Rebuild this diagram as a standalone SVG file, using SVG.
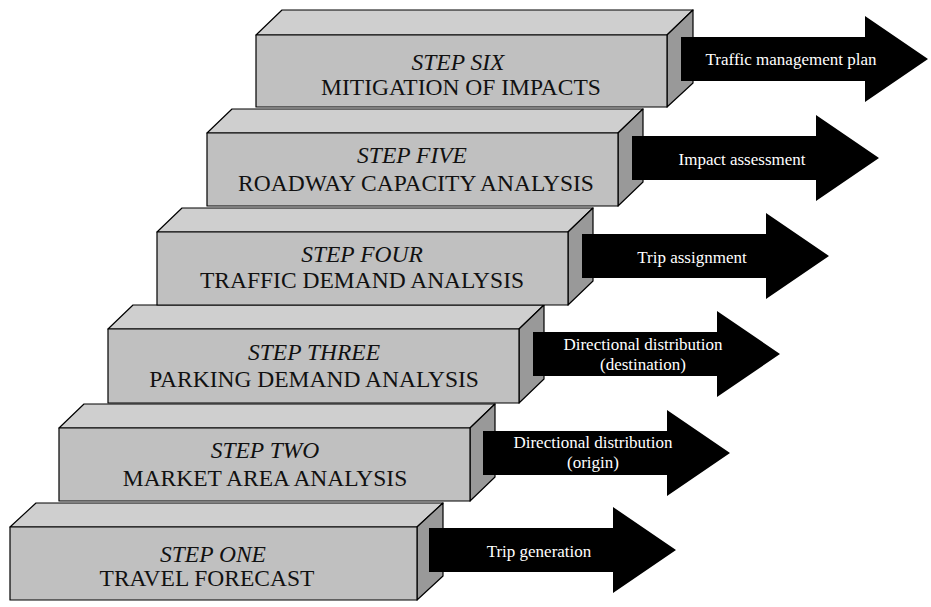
<svg xmlns="http://www.w3.org/2000/svg" xmlns:xlink="http://www.w3.org/1999/xlink" width="931" height="607" viewBox="0 0 931 607">
  <style>
    .front { fill: #c0c0c0; stroke: #000; stroke-width: 1.2; stroke-linejoin: round; }
    .top { fill: #cfcfcf; stroke: #000; stroke-width: 1.2; stroke-linejoin: round; }
    .side { fill: #999999; stroke: #000; stroke-width: 1.2; stroke-linejoin: round; }
    .arrow { fill: #000; }
    .step { font-family: "Liberation Serif", "Times New Roman", serif; font-size: 23.5px; font-style: italic; fill: #111; text-anchor: middle; }
    .title { font-family: "Liberation Serif", "Times New Roman", serif; font-size: 23.5px; fill: #111; text-anchor: middle; }
    .out { font-family: "Liberation Serif", "Times New Roman", serif; font-size: 17px; fill: #fff; text-anchor: middle; }
  </style>
  <defs>
    <!-- block arrow: body 184 long, 44 tall; head 63 long, 86 tall -->
    <path id="blockArrow" d="M0,0 H184 V-21 L247,22 L184,65 V44 H0 Z"/>
  </defs>

  <!-- Step one -->
  <g id="step-one">
    <polygon class="top" points="10,527 36,503 443,503 417,527"/>
    <polygon class="side" points="417,527 443,503 443,576 417,600"/>
    <rect class="front" x="10" y="527" width="407" height="73"/>
    <text class="step" x="213" y="562">STEP ONE</text>
    <text class="title" x="207" y="586">TRAVEL FORECAST</text>
  </g>
  <g id="out-one">
    <use class="arrow" xlink:href="#blockArrow" transform="translate(429,528)"/>
    <text class="out" x="539" y="557">Trip generation</text>
  </g>

  <!-- Step two -->
  <g id="step-two">
    <polygon class="top" points="59,428 84,404 495,404 470,428"/>
    <polygon class="side" points="470,428 495,404 495,477 470,501"/>
    <rect class="front" x="59" y="428" width="411" height="73"/>
    <text class="step" x="265" y="458">STEP TWO</text>
    <text class="title" x="265" y="486">MARKET AREA ANALYSIS</text>
  </g>
  <g id="out-two">
    <use class="arrow" xlink:href="#blockArrow" transform="translate(483,431)"/>
    <text class="out" x="593" y="448">Directional distribution</text>
    <text class="out" x="593" y="468">(origin)</text>
  </g>

  <!-- Step three -->
  <g id="step-three">
    <polygon class="top" points="108,329 133,305 544,305 519,329"/>
    <polygon class="side" points="519,329 544,305 544,379 519,403"/>
    <rect class="front" x="108" y="329" width="411" height="74"/>
    <text class="step" x="314" y="360">STEP THREE</text>
    <text class="title" x="314" y="387">PARKING DEMAND ANALYSIS</text>
  </g>
  <g id="out-three">
    <use class="arrow" xlink:href="#blockArrow" transform="translate(533,332)"/>
    <text class="out" x="643" y="350">Directional distribution</text>
    <text class="out" x="643" y="370">(destination)</text>
  </g>

  <!-- Step four -->
  <g id="step-four">
    <polygon class="top" points="157,232 182,208 593,208 568,232"/>
    <polygon class="side" points="568,232 593,208 593,281 568,305"/>
    <rect class="front" x="157" y="232" width="411" height="73"/>
    <text class="step" x="362" y="262">STEP FOUR</text>
    <text class="title" x="362" y="288">TRAFFIC DEMAND ANALYSIS</text>
  </g>
  <g id="out-four">
    <use class="arrow" xlink:href="#blockArrow" transform="translate(582,234)"/>
    <text class="out" x="692" y="263">Trip assignment</text>
  </g>

  <!-- Step five -->
  <g id="step-five">
    <polygon class="top" points="207,133 232,109 643,109 618,133"/>
    <polygon class="side" points="618,133 643,109 643,182 618,206"/>
    <rect class="front" x="207" y="133" width="411" height="73"/>
    <text class="step" x="412" y="163">STEP FIVE</text>
    <text class="title" x="416" y="191">ROADWAY CAPACITY ANALYSIS</text>
  </g>
  <g id="out-five">
    <use class="arrow" xlink:href="#blockArrow" transform="translate(632,136)"/>
    <text class="out" x="742" y="165">Impact assessment</text>
  </g>

  <!-- Step six -->
  <g id="step-six">
    <polygon class="top" points="256,35 282,10 693,10 667,35"/>
    <polygon class="side" points="667,35 693,10 693,83 667,107"/>
    <rect class="front" x="256" y="35" width="411" height="72"/>
    <text class="step" x="458" y="70">STEP SIX</text>
    <text class="title" x="461" y="95">MITIGATION OF IMPACTS</text>
  </g>
  <g id="out-six">
    <use class="arrow" xlink:href="#blockArrow" transform="translate(681,37)"/>
    <text class="out" x="791" y="65">Traffic management plan</text>
  </g>
</svg>
